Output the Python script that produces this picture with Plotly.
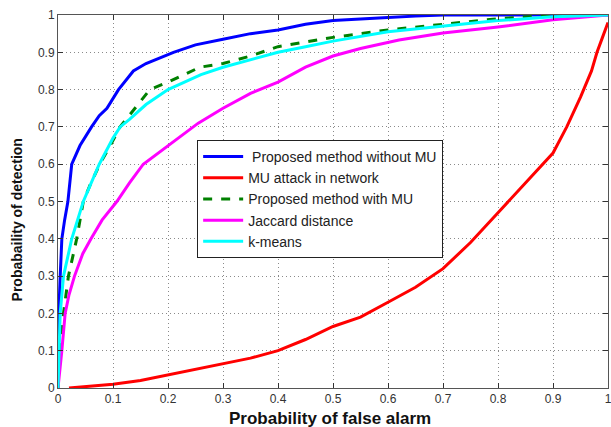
import plotly.graph_objects as go

# Proposed method without MU
blue_x = [0, 0.001, 0.002, 0.004, 0.007, 0.012, 0.018, 0.025, 0.04, 0.061, 0.075, 0.089, 0.11, 0.137, 0.16, 0.21, 0.25, 0.3, 0.35, 0.4, 0.45, 0.5, 0.55, 0.6, 0.65, 0.7, 0.8, 0.9, 1.0]
blue_y = [0.0, 0.15, 0.22, 0.3, 0.4, 0.45, 0.5, 0.6, 0.65, 0.7, 0.73, 0.75, 0.8, 0.85, 0.87, 0.9, 0.92, 0.935, 0.95, 0.96, 0.975, 0.985, 0.99, 0.993, 0.997, 1.0, 1.0, 1.0, 1.0]

# MU attack in network
red_x = [0.02, 0.05, 0.1, 0.15, 0.2, 0.25, 0.3, 0.35, 0.4, 0.45, 0.5, 0.55, 0.6, 0.65, 0.7, 0.75, 0.8, 0.85, 0.9, 0.925, 0.95, 0.97, 0.98, 0.99, 1.0]
red_y = [0.0, 0.003, 0.01, 0.02, 0.035, 0.05, 0.065, 0.08, 0.1, 0.13, 0.165, 0.19, 0.23, 0.27, 0.32, 0.39, 0.47, 0.55, 0.63, 0.7, 0.78, 0.85, 0.9, 0.94, 0.98]

# Proposed method with MU
green_x = [0, 0.004, 0.01, 0.019, 0.034, 0.046, 0.06, 0.076, 0.095, 0.113, 0.14, 0.167, 0.2, 0.258, 0.3, 0.35, 0.4, 0.5, 0.6, 0.7, 0.8, 0.9, 1.0]
green_y = [0.0, 0.12, 0.2, 0.3, 0.4, 0.5, 0.55, 0.6, 0.65, 0.7, 0.75, 0.8, 0.82, 0.86, 0.87, 0.89, 0.915, 0.94, 0.96, 0.975, 0.99, 1.0, 1.0]

# Jaccard distance
mag_x = [0, 0.004, 0.007, 0.013, 0.02, 0.03, 0.045, 0.06, 0.08, 0.107, 0.13, 0.155, 0.2, 0.255, 0.3, 0.35, 0.4, 0.45, 0.5, 0.55, 0.62, 0.7, 0.8, 0.9, 1.0]
mag_y = [0.0, 0.05, 0.1, 0.2, 0.25, 0.3, 0.36, 0.4, 0.45, 0.5, 0.55, 0.6, 0.65, 0.71, 0.75, 0.79, 0.82, 0.86, 0.89, 0.91, 0.933, 0.952, 0.968, 0.987, 1.0]

# k-means
cyan_x = [0, 0.002, 0.004, 0.01, 0.025, 0.046, 0.075, 0.1, 0.113, 0.13, 0.16, 0.2, 0.26, 0.3, 0.35, 0.4, 0.45, 0.5, 0.6, 0.7, 0.8, 0.9, 1.0]
cyan_y = [0.0, 0.12, 0.2, 0.3, 0.4, 0.5, 0.6, 0.67, 0.7, 0.72, 0.76, 0.8, 0.84, 0.86, 0.88, 0.9, 0.915, 0.93, 0.955, 0.97, 0.985, 0.995, 1.0]

x_title = "Probability of false alarm"
y_title = "Probabaility of detection"

font_family = "Arial, Liberation Sans, sans-serif"

fig = go.Figure()
fig.add_trace(go.Scatter(x=blue_x, y=blue_y, mode="lines", name=" Proposed method without MU",
                         line=dict(color="#0000ff", width=3)))
fig.add_trace(go.Scatter(x=red_x, y=red_y, mode="lines", name="MU attack in network",
                         line=dict(color="#ff0000", width=3)))
fig.add_trace(go.Scatter(x=green_x, y=green_y, mode="lines", name="Proposed method with MU",
                         line=dict(color="#008000", width=3, dash="dash")))
fig.add_trace(go.Scatter(x=mag_x, y=mag_y, mode="lines", name="Jaccard distance",
                         line=dict(color="#ff00ff", width=3)))
fig.add_trace(go.Scatter(x=cyan_x, y=cyan_y, mode="lines", name="k-means",
                         line=dict(color="#00ffff", width=3)))

axis_common = dict(
    range=[0, 1], dtick=0.1, showgrid=True, gridcolor="#8a8a8a", griddash="1px,3px", gridwidth=1,
    zeroline=False, showline=True, linecolor="#555555", linewidth=1, mirror="ticks",
    ticks="inside", ticklen=5, tickcolor="#333333", automargin=False,
    ticklabeloverflow="allow",
    tickfont=dict(family=font_family, size=12, color="#333333"), tickformat="~g",
)

fig.update_layout(
    width=611, height=427,
    margin=dict(l=58, r=3, t=15, b=39, autoexpand=False),
    paper_bgcolor="white", plot_bgcolor="white",
    font=dict(family=font_family),
    xaxis=dict(**axis_common),
    yaxis=dict(**axis_common),
    legend=dict(x=0.253, y=0.665, xanchor="left", yanchor="top",
                bgcolor="white", bordercolor="#222222", borderwidth=1,
                font=dict(family=font_family, size=14, color="#222222"),
                tracegroupgap=0, itemwidth=40),
    showlegend=True,
    annotations=[
        dict(text="<b>" + x_title + "</b>", xref="paper", yref="paper", x=0.495, y=-0.082,
             xanchor="center", yanchor="middle", showarrow=False,
             font=dict(size=17, color="#111111")),
        dict(text="<b>" + y_title + "</b>", xref="paper", yref="paper", x=-0.074, y=0.45,
             xanchor="center", yanchor="middle", showarrow=False, textangle=-90,
             font=dict(size=14, color="#111111")),
    ],
)

fig.write_html("out.html", config={"displayModeBar": False},
               post_script="document.body.style.margin='0';document.body.style.padding='0';")
